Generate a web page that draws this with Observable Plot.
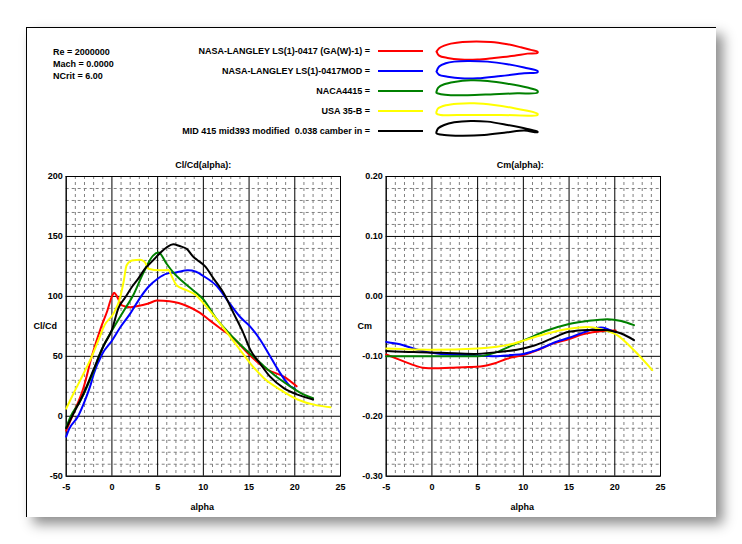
<!DOCTYPE html>
<html><head><meta charset="utf-8">
<script src="https://cdn.jsdelivr.net/npm/d3@7"></script>
<script src="https://cdn.jsdelivr.net/npm/@observablehq/plot@0.6"></script>
<style>
body{margin:0;background:#fff;font-family:"Liberation Sans",Arial,sans-serif;}
#page{position:relative;width:742px;height:544px;overflow:hidden;background:#fff;}
#card{position:absolute;left:26px;top:27px;width:689px;height:489px;background:#fff;border-left:1px solid #000;border-top:1px solid #000;box-shadow:7px 7px 12px rgba(0,0,0,0.45);}
.abs{position:absolute;}
.txt{font-size:9px;font-weight:bold;color:#000;white-space:pre;line-height:12px;}
</style></head>
<body><div id="page"><div id="card"></div></div>
<script>
// ---- metadata ----
const infoLines = ["Re = 2000000", "Mach = 0.0000", "NCrit = 6.00"];
const seriesNames = [
  "NASA-LANGLEY LS(1)-0417 (GA(W)-1)",
  "NASA-LANGLEY LS(1)-0417MOD",
  "NACA4415",
  "USA 35-B",
  "MID 415 mid393 modified  0.038 camber in"
];
const seriesColors = ["#ff0000", "#0000ff", "#008000", "#ffff00", "#000000"];

// ---- tick labels ----
const alphaTicks = [-5, 0, 5, 10, 15, 20, 25];
const clcdTicks = [-50, 0, 50, 100, 150, 200];
const cmTicks = [-0.30, -0.20, -0.10, 0.00, 0.10, 0.20];

// ---- Cl/Cd(alpha) ----
const clcdAlphaRed = [-5, -4.35, -3.1, -2.2, -1.2, -0.5, 0, 0.25, 0.55, 1.1, 2, 2.7, 4, 4.9, 6.3, 7.3, 8.2, 9.6, 10.7, 11.8, 13.3, 15, 17, 18.8, 20.2];
const clcdRed = [-12, 0, 24, 50, 74, 88, 100, 103, 100, 92.5, 91, 91.7, 94, 96.5, 96, 94.5, 92, 86.5, 80, 73.6, 65, 51.5, 39, 33, 25];
const clcdAlphaBlue = [-5, -4.7, -3.7, -2.9, -2.3, -2, -1.06, 0, 0.9, 2, 3.1, 4, 5, 6, 7, 8.3, 9.2, 10, 11.5, 12.6, 14, 15.1, 16.2, 17.3, 18.4, 19.5, 20];
const clcdBlue = [-17, -11, 0, 14, 27, 35, 52, 63, 74, 85.6, 99, 108, 114.7, 119, 120, 121.7, 120.5, 117, 108.3, 97, 83, 75, 64, 50, 36, 25, 23];
const clcdAlphaGreen = [-5, -4.5, -3.45, -2, -1.43, -0.9, 0.2, 1.3, 2.4, 3.4, 4.5, 5.1, 6, 6.7, 7.8, 8.9, 10, 11.5, 12.6, 14, 15, 16.6, 18, 19.5, 21, 22];
const clcdGreen = [-9.4, 0, 13, 38, 50, 59, 74, 88, 102, 119, 134, 136.5, 127, 120, 112, 105, 97.5, 80.6, 71, 60, 53, 42, 33, 25, 18, 15];
const clcdAlphaYellow = [-5, -4.2, -3.4, -2.2, -1.5, -0.8, 0.2, 0.9, 1.3, 1.6, 2.2, 3.1, 3.6, 4, 5.2, 6.2, 6.5, 7.1, 8.2, 9.2, 10, 11.5, 12.9, 14, 15.1, 16.6, 18.4, 20.3, 22.1, 23.9];
const clcdYellow = [6.4, 19, 31, 50, 63, 76, 86, 99, 113, 125.8, 130, 130.6, 128.6, 123, 121.7, 122, 117.5, 109, 105, 101, 94.4, 80.6, 66.7, 55.6, 44.4, 32, 22.2, 14, 9.7, 7.5];
const clcdAlphaBlack = [-5, -4.35, -3.1, -2, -0.9, 0, 0.7, 1.45, 2.2, 2.9, 3.6, 4.5, 5.25, 6, 6.7, 7.4, 8.2, 8.9, 9.3, 10.2, 11.1, 12.2, 13.3, 14.4, 15.1, 16.2, 17.3, 18.8, 20.3, 22];
const clcdBlack = [-10, 0, 19, 39, 59, 72, 90, 99, 108, 115, 123, 130, 136, 141, 143.5, 142, 139.5, 133, 130.5, 125, 115, 103, 86, 69, 56, 44, 33, 23.5, 18, 14];

// ---- Cm(alpha) ----
const cmAlphaRed = [-5, -3.5, -2.3, -1, 0.3, 2, 4, 5.3, 6.8, 8.2, 10, 11.5, 13, 15, 16.6, 18.5, 20.1];
const cmRed = [-0.097, -0.106, -0.113, -0.119, -0.12, -0.119, -0.118, -0.117, -0.112, -0.104, -0.098, -0.09, -0.08, -0.071, -0.063, -0.058, -0.057];
const cmAlphaBlue = [-5, -3.5, -2, -0.5, 1, 4, 7, 8.6, 10, 11.9, 13.4, 15, 16.6, 18.5, 19.3, 20.1];
const cmBlue = [-0.076, -0.08, -0.087, -0.093, -0.096, -0.098, -0.1, -0.098, -0.096, -0.087, -0.077, -0.069, -0.06, -0.052, -0.055, -0.06];
const cmAlphaGreen = [-5, 0, 5, 7.1, 8.9, 10.4, 12.6, 15, 17, 19.2, 20.7, 22.1];
const cmGreen = [-0.1, -0.1, -0.1, -0.093, -0.081, -0.071, -0.057, -0.046, -0.041, -0.038, -0.041, -0.048];
const cmAlphaYellow = [-5, 0, 5, 7.1, 8.9, 10.4, 12.6, 15, 17, 18.8, 20.3, 22.1, 24.1];
const cmYellow = [-0.087, -0.089, -0.087, -0.084, -0.079, -0.072, -0.062, -0.054, -0.051, -0.056, -0.065, -0.09, -0.123];
const cmAlphaBlack = [-5, -2, 1, 4.6, 7.1, 9.3, 11.2, 13, 15, 17, 18.8, 20.7, 22.1];
const cmBlack = [-0.091, -0.093, -0.094, -0.096, -0.093, -0.089, -0.082, -0.071, -0.059, -0.056, -0.056, -0.062, -0.073];

// ---- airfoil outlines for legend (chord units, LE -> upper -> TE -> lower -> LE) ----
const foilXRed = [0, 0.026, 0.076, 0.142, 0.257, 0.538, 0.703, 0.835, 0.934, 1.0, 1.0, 0.9, 0.77, 0.57, 0.406, 0.24, 0.109, 0.026, 0];
const foilYRed = [0, 0.033, 0.059, 0.079, 0.096, 0.096, 0.073, 0.043, 0.017, 0, -0.013, -0.02, -0.04, -0.063, -0.079, -0.079, -0.063, -0.04, 0];
const foilXBlue = [0, 0.026, 0.092, 0.175, 0.307, 0.505, 0.703, 0.868, 1.0, 1.0, 0.868, 0.637, 0.406, 0.24, 0.109, 0.026, 0];
const foilYBlue = [0, 0.05, 0.083, 0.099, 0.106, 0.099, 0.073, 0.04, 0.007, -0.007, -0.017, -0.043, -0.066, -0.066, -0.05, -0.033, 0];
const foilXGreen = [0, 0.017, 0.076, 0.175, 0.34, 0.505, 0.703, 0.9, 1.0, 1.0, 0.8, 0.57, 0.307, 0.142, 0.043, 0, 0];
const foilYGreen = [0, 0.04, 0.073, 0.096, 0.112, 0.106, 0.079, 0.04, 0.007, -0.01, -0.017, -0.026, -0.036, -0.036, -0.026, -0.013, 0];
const foilXYellow = [0, 0.017, 0.092, 0.208, 0.373, 0.57, 0.77, 1.0, 1.0, 0.637, 0.307, 0.043, 0, 0];
const foilYYellow = [0, 0.033, 0.063, 0.079, 0.083, 0.066, 0.033, -0.02, -0.033, -0.033, -0.033, -0.033, -0.02, 0];
const foilXBlack = [0, 0.017, 0.076, 0.175, 0.34, 0.505, 0.703, 0.9, 1.0, 1.0, 0.868, 0.703, 0.472, 0.24, 0.076, 0, 0];
const foilYBlack = [0, 0.033, 0.066, 0.092, 0.106, 0.099, 0.066, 0.026, 0, -0.007, 0.01, -0.007, -0.033, -0.04, -0.033, -0.017, 0];

// ---- build tables ----
function zipSeries(alphas, values) {
  const out = [];
  alphas.forEach((xs, i) => xs.forEach((a, j) => out.push({series: seriesNames[i], alpha: a, value: values[i][j]})));
  return out;
}
const clcdTable = zipSeries(
  [clcdAlphaRed, clcdAlphaBlue, clcdAlphaGreen, clcdAlphaYellow, clcdAlphaBlack],
  [clcdRed, clcdBlue, clcdGreen, clcdYellow, clcdBlack]);
const cmTable = zipSeries(
  [cmAlphaRed, cmAlphaBlue, cmAlphaGreen, cmAlphaYellow, cmAlphaBlack],
  [cmRed, cmBlue, cmGreen, cmYellow, cmBlack]);
const foilX = [foilXRed, foilXBlue, foilXGreen, foilXYellow, foilXBlack];
const foilY = [foilYRed, foilYBlue, foilYGreen, foilYYellow, foilYBlack];

const page = document.getElementById("page");
const FONT = "'Liberation Sans', Arial, sans-serif";

// ---- info text ----
const info = document.createElement("div");
info.className = "abs txt";
info.style.left = "53px"; info.style.top = "45.5px"; info.style.lineHeight = "12.2px";
info.textContent = infoLines.join("\n");
page.appendChild(info);

// ---- legend ----
const rowY = [51, 71, 91, 111, 131];
seriesNames.forEach((name, i) => {
  const t = document.createElement("div");
  t.className = "abs txt";
  t.style.right = (742 - 370) + "px";
  t.style.top = (rowY[i] - 6) + "px";
  t.textContent = name + " =";
  page.appendChild(t);
  const sw = document.createElement("div");
  sw.className = "abs";
  sw.style.left = "378px"; sw.style.width = "45px";
  sw.style.top = (rowY[i] - 1) + "px"; sw.style.height = "2px";
  sw.style.background = seriesColors[i];
  page.appendChild(sw);
  const foil = foilX[i].map((x, j) => ({x, y: foilY[i][j]}));
  const fp = Plot.plot({
    width: 105, height: 27.2,
    marginLeft: 2, marginRight: 2, marginTop: 2, marginBottom: 2,
    x: {domain: [0, 1], axis: null},
    y: {domain: [-0.1, 0.13], axis: null},
    style: {background: "transparent", overflow: "visible"},
    marks: [Plot.line(foil, {x: "x", y: "y", stroke: seriesColors[i], strokeWidth: 2, curve: "catmull-rom"})]
  });
  fp.style.position = "absolute";
  fp.style.left = "433.7px";
  fp.style.top = (rowY[i] - 15.1) + "px";
  page.appendChild(fp);
});

// ---- charts ----
function chart({table, yDomain, yTicks, yMinor, yFormat, title, ylabel, width, marginLeft, marginRight, ylabelDx, titleDx, alphaDx}) {
  const xMinor = d3.range(-5, 26).filter(d => d % 5 !== 0);
  return Plot.plot({
    width, height: 390,
    marginLeft, marginRight, marginTop: 36, marginBottom: 54.3,
    x: {domain: [-5, 25], label: null},
    y: {domain: yDomain, label: null},
    color: {domain: seriesNames, range: seriesColors},
    style: {fontFamily: FONT, fontSize: "9px", fontWeight: "bold", background: "transparent", color: "#000"},
    marks: [
      Plot.ruleX(xMinor, {stroke: "#808080", strokeDasharray: "3,3", strokeOpacity: 1}),
      Plot.ruleY(yMinor, {stroke: "#808080", strokeDasharray: "3,3", strokeOpacity: 1}),
      Plot.ruleX(alphaTicks, {stroke: "#000"}),
      Plot.ruleY(yTicks, {stroke: "#000"}),
      Plot.frame({stroke: "#000"}),
      Plot.axisX(alphaTicks, {tickSize: 0, tickPadding: 7, tickFormat: d => String(d), fill: "#000", label: null}),
      Plot.axisY(yTicks, {tickSize: 0, tickPadding: 3.5, tickFormat: yFormat, fill: "#000", label: null}),
      Plot.line(table, {x: "alpha", y: "value", z: "series", stroke: "series", strokeWidth: 2, curve: "monotone-x"}),
      Plot.text([title], {text: d => d, frameAnchor: "top", textAnchor: "middle", lineAnchor: "middle", dy: -11, dx: titleDx}),
      Plot.text([ylabel], {text: d => d, frameAnchor: "left", textAnchor: "start", lineAnchor: "middle", dx: ylabelDx}),
      Plot.text(["alpha"], {text: d => d, frameAnchor: "bottom", textAnchor: "middle", lineAnchor: "middle", dy: 31, dx: alphaDx})
    ]
  });
}

const left = chart({
  table: clcdTable, yDomain: [-50, 200], yTicks: clcdTicks,
  yMinor: d3.range(-50, 201, 10).filter(d => d % 50 !== 0),
  yFormat: d => String(d), title: "Cl/Cd(alpha):", ylabel: "Cl/Cd",
  width: 350, marginLeft: 65.7, marginRight: 10, ylabelDx: -32.7, titleDx: 0, alphaDx: -1
});
left.style.position = "absolute"; left.style.left = "0px"; left.style.top = "140px";
page.appendChild(left);

const right = chart({
  table: cmTable, yDomain: [-0.3, 0.2], yTicks: cmTicks,
  yMinor: d3.range(-30, 21, 2).filter(d => d % 10 !== 0).map(d => d / 100),
  yFormat: d => d.toFixed(2), title: "Cm(alpha):", ylabel: "Cm",
  width: 330, marginLeft: 35.7, marginRight: 20, ylabelDx: -28.7, titleDx: -3, alphaDx: -1
});
right.style.position = "absolute"; right.style.left = "350px"; right.style.top = "140px";
page.appendChild(right);
</script>
</body></html>
